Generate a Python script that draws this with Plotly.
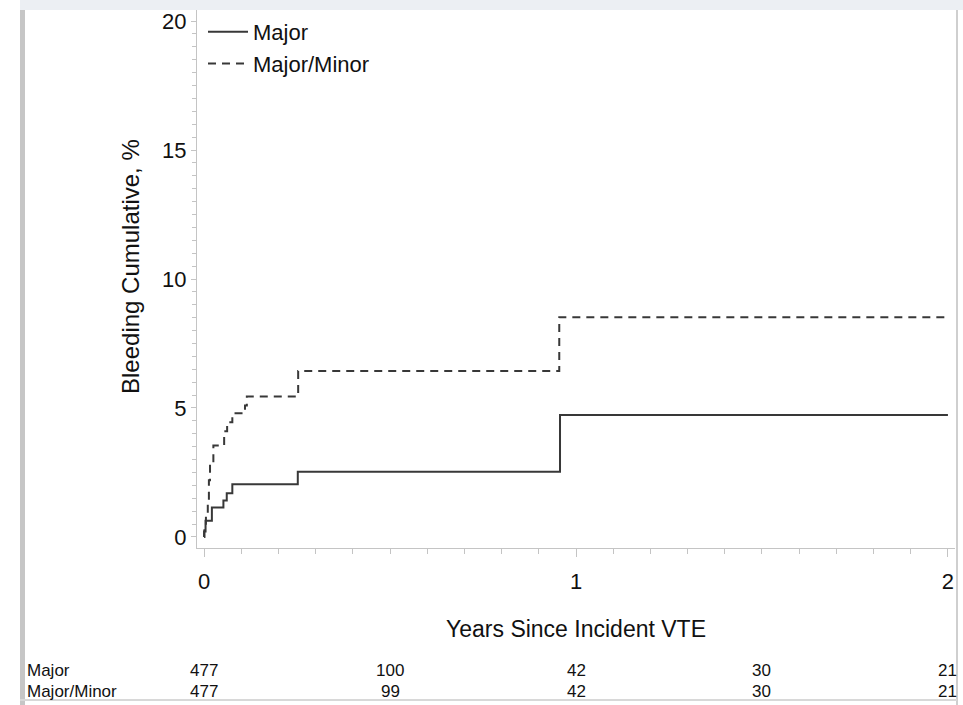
import plotly.graph_objects as go

# ---- data ----
major_x = [0, 0.0, 0.004, 0.021, 0.052, 0.061, 0.076, 0.252, 0.957, 2.0]
major_y = [0, 0.21, 0.63, 1.14, 1.41, 1.69, 2.04, 2.53, 4.73, 4.73]

minor_x = [0, 0.001, 0.005, 0.010, 0.013, 0.016, 0.025, 0.054, 0.062, 0.076, 0.110, 0.115, 0.253, 0.955, 2.0]
minor_y = [0, 0.40, 0.92, 1.30, 2.20, 2.83, 3.54, 4.10, 4.45, 4.79, 5.10, 5.44, 6.43, 8.52, 8.52]

risk_times = [0, 0.5, 1, 1.5, 2]
risk_major = [477, 100, 42, 30, 21]
risk_majorminor = [477, 99, 42, 30, 21]
risk_labels = ["Major", "Major/Minor"]

W, H = 963, 705
L, R, T, B = 197, 955, 10, 548


def px(x):
    return (x - L) / (R - L)


def py(y):
    return (B - y) / (B - T)


FONT = "Liberation Sans, Arial, sans-serif"
LINE = "#383838"
AX = "#c4c4c4"

fig = go.Figure()
fig.add_trace(go.Scatter(x=major_x, y=major_y, mode="lines", name="Major",
                         line=dict(shape="hv", color=LINE, width=2)))
fig.add_trace(go.Scatter(x=minor_x, y=minor_y, mode="lines", name="Major/Minor",
                         line=dict(shape="hv", color=LINE, width=2, dash="8px,6px")))

annotations = []
rows = [risk_major, risk_majorminor]
row_y = [670, 691]
for lab, vals, yy in zip(risk_labels, rows, row_y):
    annotations.append(dict(x=px(25), y=py(yy), xref="paper", yref="paper", text=lab,
                            showarrow=False, xanchor="left", yanchor="middle",
                            font=dict(family=FONT, size=17, color="#111")))
    for t, v in zip(risk_times, vals):
        annotations.append(dict(x=t, y=py(yy), xref="x", yref="paper", text=str(v),
                                showarrow=False, xanchor="center", yanchor="middle",
                                font=dict(family=FONT, size=17, color="#111")))

# y-axis title as annotation for exact placement
annotations.append(dict(x=px(130), y=py(267), xref="paper", yref="paper",
                        text="Bleeding Cumulative, %", textangle=-90, showarrow=False,
                        xanchor="center", yanchor="middle",
                        font=dict(family=FONT, size=24, color="#111")))

shapes = [
    dict(type="rect", xref="paper", yref="paper", x0=px(20), x1=px(963), y0=py(0), y1=py(10),
         fillcolor="#eceff3", line=dict(width=0), layer="below"),
    dict(type="rect", xref="paper", yref="paper", x0=px(20), x1=px(25), y0=py(10), y1=py(705),
         fillcolor="#c6c6c6", line=dict(width=0), layer="below"),
    dict(type="line", xref="paper", yref="paper", x0=px(957), x1=px(957), y0=py(10), y1=py(705),
         line=dict(color="#cfcfcf", width=2)),
    dict(type="line", xref="paper", yref="paper", x0=px(20), x1=px(957), y0=py(700), y1=py(700),
         line=dict(color="#d8d8d8", width=2)),
]

fig.update_layout(
    width=W, height=H,
    margin=dict(l=L, r=W - R, t=T, b=H - B),
    paper_bgcolor="white", plot_bgcolor="white",
    font=dict(family=FONT, size=20, color="#111"),
    showlegend=True,
    legend=dict(x=px(203), y=py(11), xanchor="left", yanchor="top", bgcolor="rgba(0,0,0,0)",
                font=dict(family=FONT, size=22, color="#111"), itemwidth=40, tracegroupgap=0),
    annotations=annotations,
    shapes=shapes,
    xaxis=dict(range=[-0.019, 2.019], tickvals=[0, 1, 2], ticktext=["0", "1", "2"],
               showgrid=False, zeroline=False, showline=True, linecolor=AX, linewidth=1,
               ticks="outside", ticklen=8, tickcolor=AX, ticklabelstandoff=6,
               tickfont=dict(family=FONT, size=22, color="#111"),
               minor=dict(dtick=0.1, tick0=0, ticks="outside", ticklen=5, tickcolor=AX, showgrid=False),
               title=dict(text="Years Since Incident VTE", standoff=27,
                          font=dict(family=FONT, size=23, color="#111"))),
    yaxis=dict(range=[-0.43, 20.43], tickvals=[0, 5, 10, 15, 20],
               showgrid=False, zeroline=False, showline=True, linecolor=AX, linewidth=1,
               ticks="outside", ticklen=5, tickcolor=AX, ticklabelstandoff=0,
               tickfont=dict(family=FONT, size=22, color="#111"),
               minor=dict(dtick=0.5, tick0=0, ticks="outside", ticklen=4, tickcolor=AX, showgrid=False)),
)

fig.write_html("out.html", config={"displayModeBar": False},
               post_script="document.body.style.margin='0px';document.body.style.overflow='hidden';")
